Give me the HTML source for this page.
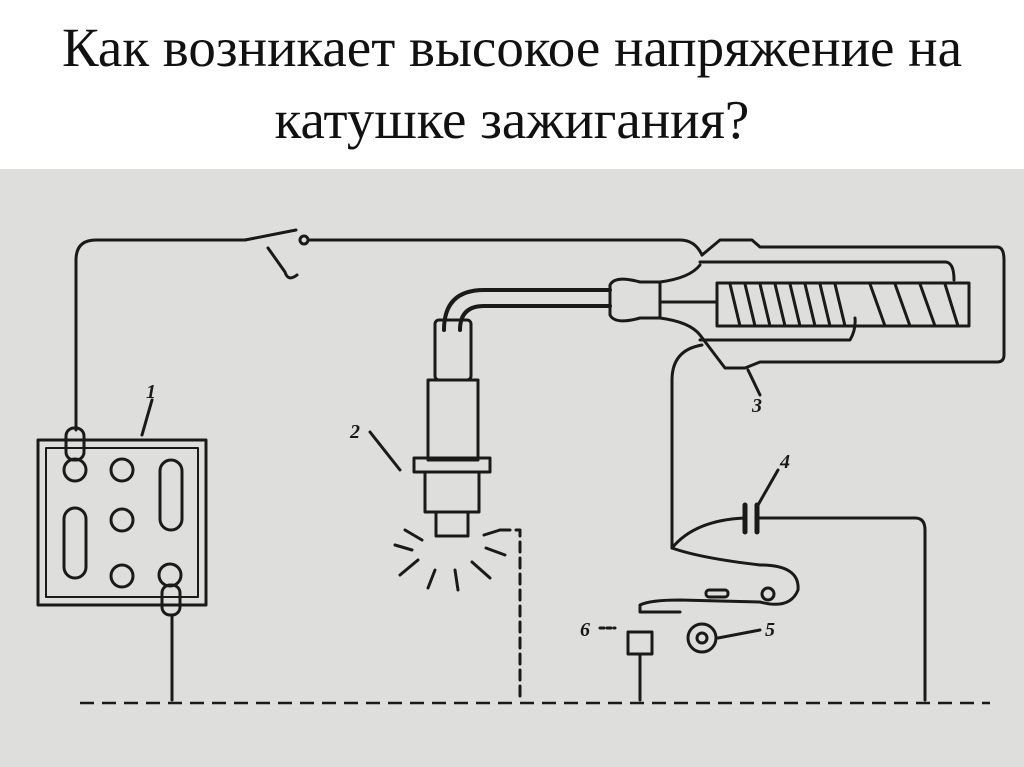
<!DOCTYPE html>
<html><head><meta charset="utf-8"><style>
body{margin:0;width:1024px;height:767px;background:#fff;overflow:hidden;position:relative}
h1{position:absolute;top:12px;left:0;width:1024px;margin:0;text-align:center;font:400 55px/72px "Liberation Serif","Noto Serif CJK SC",serif;color:#111;white-space:nowrap}
svg{position:absolute;left:0;top:0}
</style></head><body>
<svg width="1024" height="767" viewBox="0 0 1024 767">
<rect x="0" y="169" width="1024" height="598" fill="#dededd"/>
<g fill="none" stroke="#1a1a1a" stroke-width="3" stroke-linecap="round" stroke-linejoin="round">
<path d="M76 430 V260 Q76 240 96 240 H245"/>
<path d="M245 240 L296 230"/>
<path d="M268 248 L285 272 Q288 282 297 275"/>
<circle cx="304" cy="240" r="4"/>
<path d="M308 240 H680 Q695 240 702 255"/>
<rect x="38" y="440" width="168" height="165"/>
<rect x="46" y="448" width="152" height="149" stroke-width="2"/>
<rect x="66" y="428" width="18" height="32" rx="8"/>
<circle cx="75" cy="470" r="11"/><circle cx="122" cy="470" r="11"/>
<rect x="160" y="460" width="22" height="70" rx="11"/>
<rect x="64" y="508" width="22" height="70" rx="11"/>
<circle cx="122" cy="520" r="11"/><circle cx="122" cy="576" r="11"/>
<circle cx="170" cy="575" r="11"/>
<rect x="162" y="585" width="18" height="30" rx="8"/>
<path d="M172 615 V700"/>
<path d="M142 435 L152 400"/>
<path d="M444 330 Q444 290 484 290 H610 M460 330 Q460 306 484 306 H610" stroke-width="4"/>
<rect x="435" y="320" width="36" height="60" rx="4"/>
<rect x="428" y="380" width="50" height="80"/>
<rect x="414" y="458" width="76" height="14"/>
<rect x="425" y="472" width="54" height="40"/>
<rect x="436" y="512" width="32" height="24"/>
<path d="M400 470 L370 432"/>
<path d="M412 550 L395 545 M418 560 L400 575 M435 570 L428 588 M455 570 L458 590 M472 562 L490 578 M486 548 L505 555 M422 540 L405 530 M484 535 L500 530"/>
<path d="M500 530 H520 V700" stroke-dasharray="10 6"/>
<path d="M610 285 Q615 275 640 282 H660 V318 H640 Q615 325 610 315 Z"/>
<path d="M702 255 L720 240 H752 L760 247 H997 Q1004 247 1004 260 V355 Q1004 362 997 362 H760 L745 368 H725 L700 335 Q690 322 660 318"/>
<path d="M660 282 Q690 278 700 265"/>
<path d="M700 262 H945 Q954 262 954 280 M700 340 H850 Q856 330 855 318"/>
<rect x="717" y="283" width="252" height="43"/>
<path d="M660 302 H717"/>
<path d="M730 284 L740 326 M745 284 L755 326 M760 284 L770 326 M775 284 L785 326 M790 284 L800 326 M805 284 L815 326 M820 284 L830 326 M835 284 L845 326 M870 284 L885 326 M895 284 L910 326 M920 284 L935 326 M945 284 L958 326"/>
<path d="M702 345 Q672 350 672 380 V548"/>
<path d="M748 370 L760 395"/>
<path d="M672 548 Q695 520 745 518 M757 518 H915 Q925 518 925 530 V700"/>
<path d="M745 505 V532 M757 505 V532" stroke-width="5"/>
<path d="M758 505 L778 470"/>
<path d="M672 548 Q700 558 760 565 Q800 565 798 590 Q790 610 760 602 L680 600 Q650 600 640 605 V612 H680"/>
<circle cx="768" cy="594" r="6"/>
<rect x="706" y="590" width="22" height="7" rx="3"/>
<circle cx="702" cy="638" r="14"/><circle cx="702" cy="638" r="5"/>
<path d="M718 638 L760 630"/>
<rect x="628" y="632" width="24" height="22"/>
<path d="M640 654 V700"/>
<path d="M600 628 L615 628" stroke-dasharray="4 3"/>
</g>
<path d="M80 703 H990" stroke="#1a1a1a" stroke-width="2.5" stroke-dasharray="14 8"/>
<g font-family="Liberation Serif,serif" font-style="italic" font-weight="bold" font-size="20" fill="#1a1a1a">
<text x="146" y="398">1</text><text x="350" y="438">2</text><text x="752" y="412">3</text>
<text x="780" y="468">4</text><text x="765" y="636">5</text><text x="580" y="636">6</text>
</g>
</svg>
<h1>Как возникает высокое напряжение на<br>катушке зажигания?</h1>
</body></html>
